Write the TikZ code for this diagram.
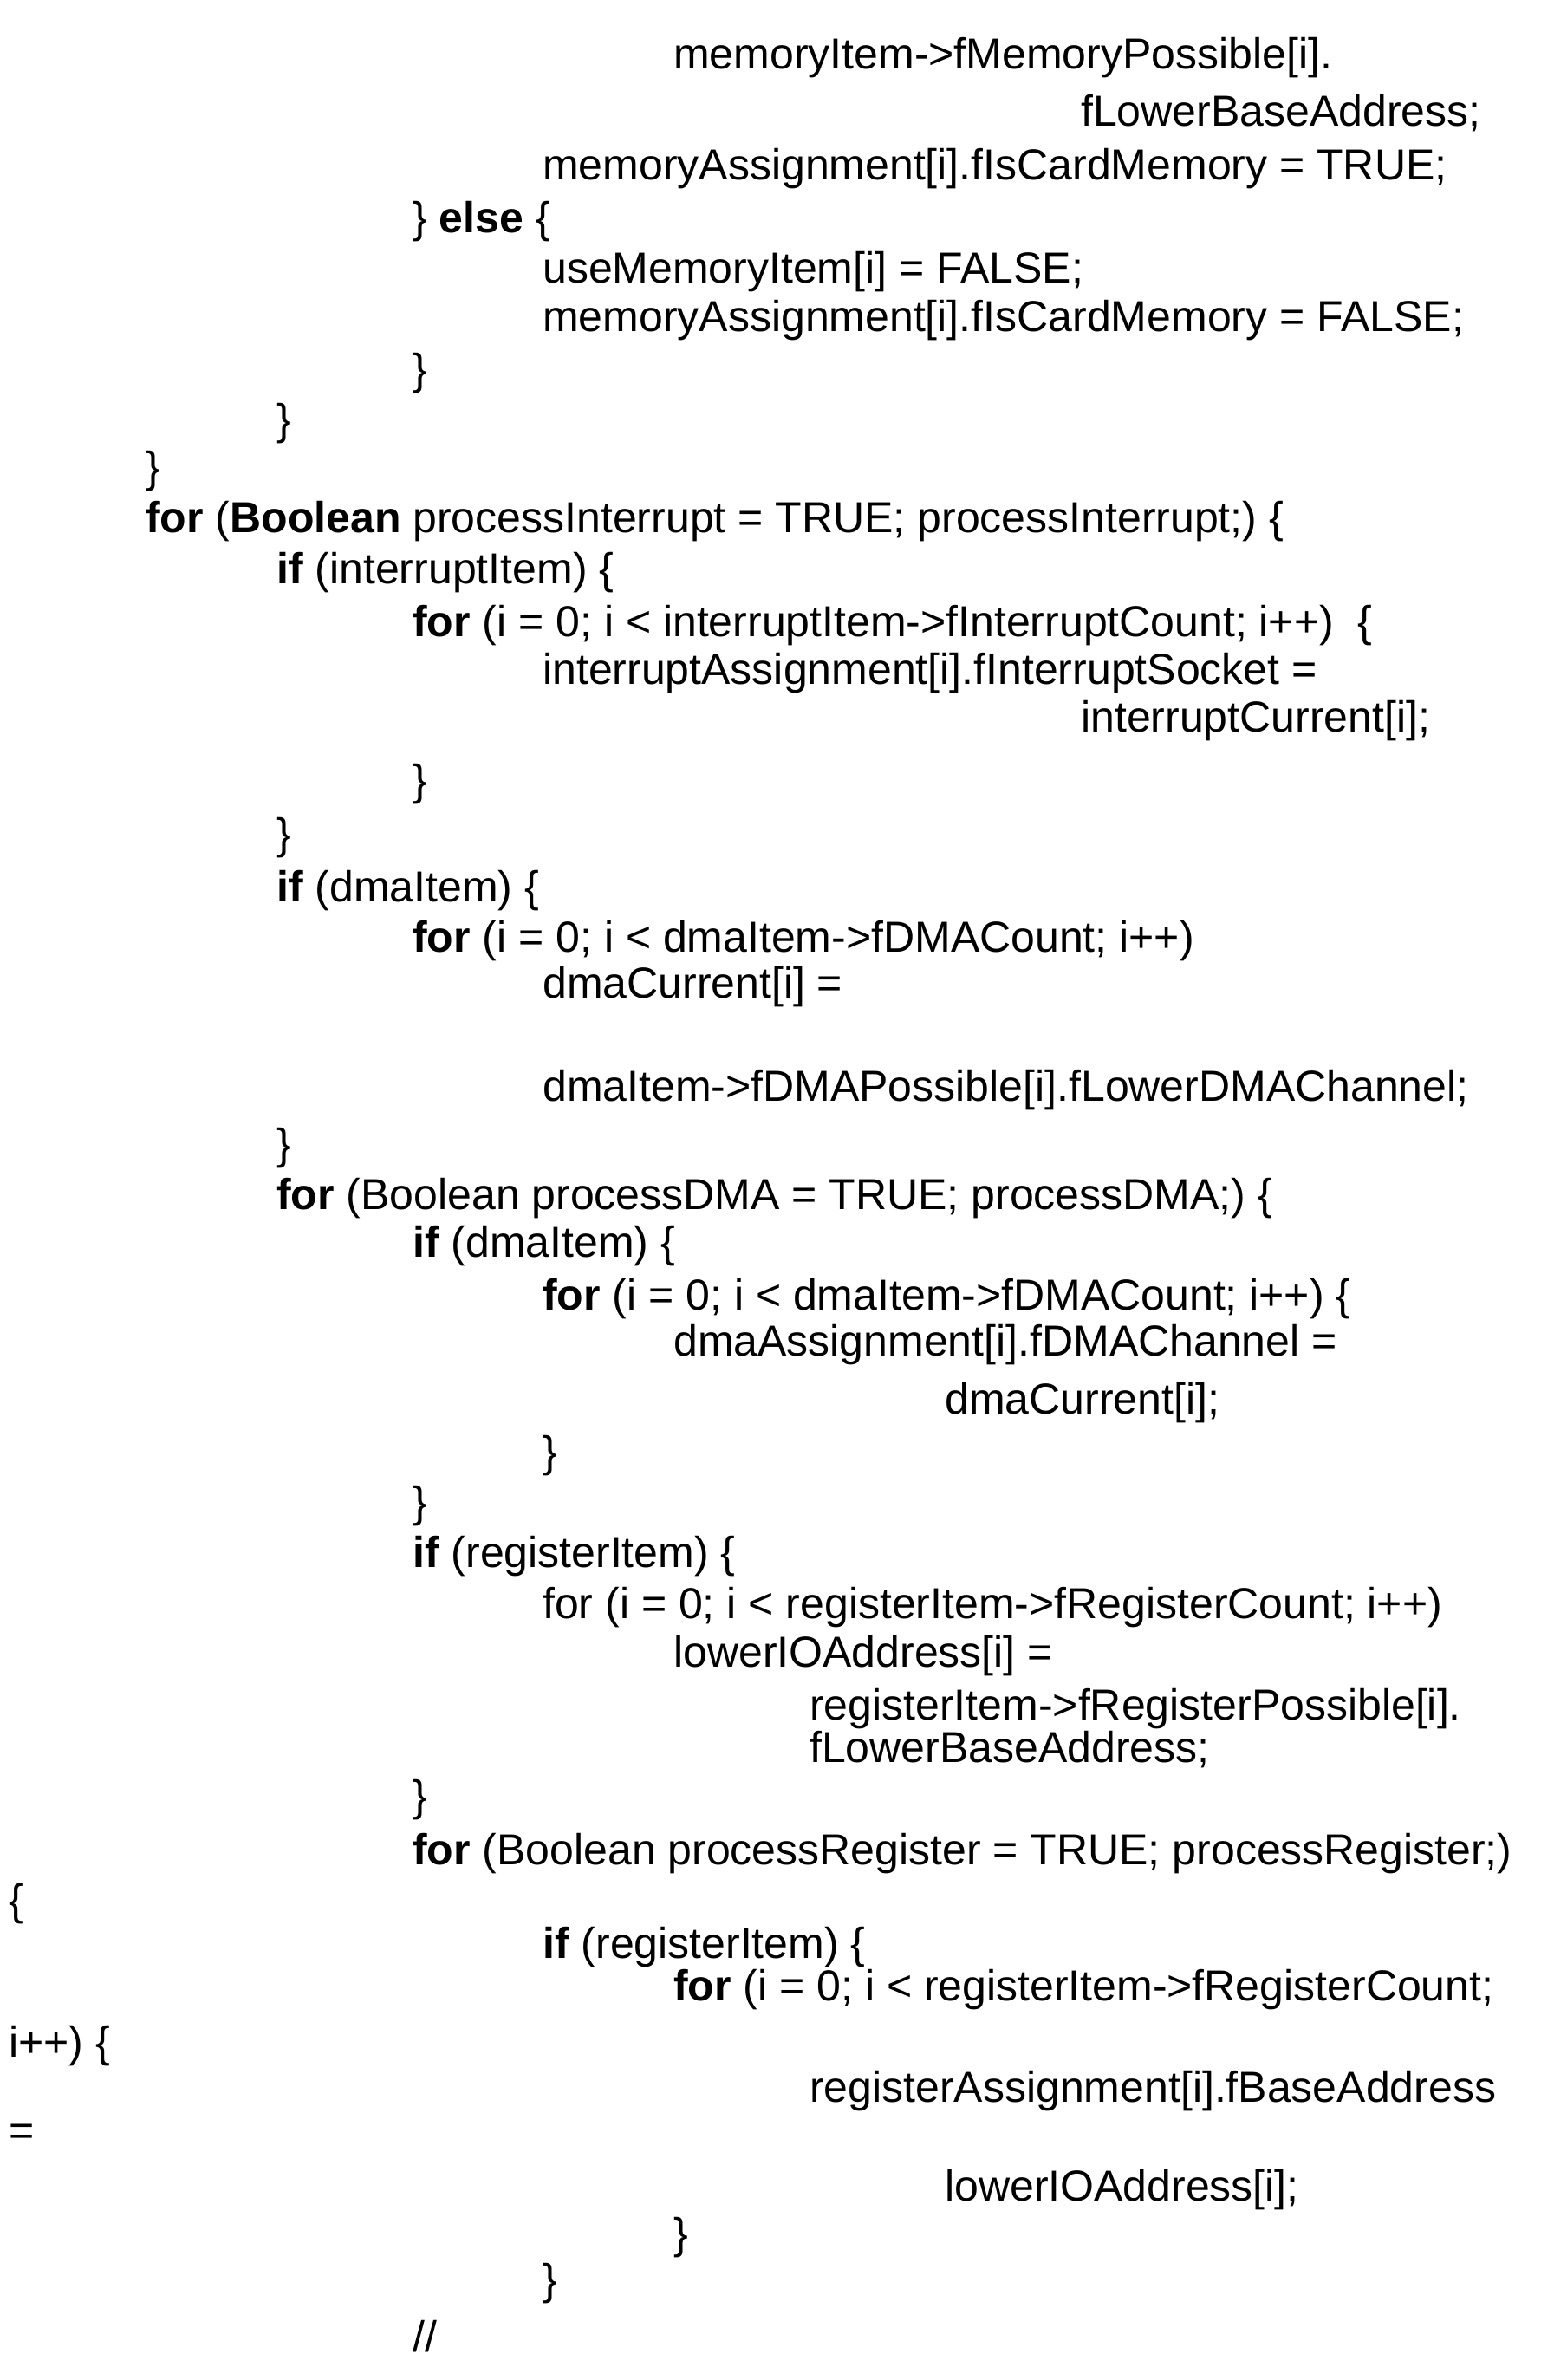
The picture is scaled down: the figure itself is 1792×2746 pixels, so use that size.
\documentclass[tikz,border=0pt]{standalone}
\usepackage{fontspec}
\setmainfont{Liberation Sans}
\usepackage{tikz}
\usetikzlibrary{positioning}

\begin{document}
\begin{tikzpicture}[x=1pt,y=-1pt]
\tikzstyle{ln} = [anchor=west,inner sep=0pt,font=\fontsize{50}{60}\selectfont]
    \useasboundingbox (0,0) rectangle (1792,2746);
    \node[ln] (l1)  at (777,67)   {memoryItem->fMemoryPossible[i].};
    \node[ln] (l2)  at (1247,131) {fLowerBaseAddress;};
    \node[ln] (l3)  at (626,195)  {memoryAssignment[i].fIsCardMemory = TRUE;};
    \node[ln] (l4)  at (476,256)  {\} \textbf{else} \{};
    \node[ln] (l5)  at (626,314)  {useMemoryItem[i] = FALSE;};
    \node[ln] (l6)  at (626,370)  {memoryAssignment[i].fIsCardMemory = FALSE;};
    \node[ln] (l7)  at (476,431)  {\}};
    \node[ln] (l8)  at (319,489)  {\}};
    \node[ln] (l9)  at (168,544)  {\}};
    \node[ln] (l10) at (168,602)  {\textbf{for} (\textbf{Boolean} processInterrupt = TRUE; processInterrupt;) \{};
    \node[ln] (l11) at (319,661)  {\textbf{if} (interruptItem) \{};
    \node[ln] (l12) at (476,722)  {\textbf{for} (i = 0; i < interruptItem->fInterruptCount; i++)\ \ \{};
    \node[ln] (l13) at (626,777)  {interruptAssignment[i].fInterruptSocket =};
    \node[ln] (l14) at (1247,832) {interruptCurrent[i];};
    \node[ln] (l15) at (476,905)  {\}};
    \node[ln] (l16) at (319,967)  {\}};
    \node[ln] (l17) at (319,1028) {\textbf{if} (dmaItem) \{};
    \node[ln] (l18) at (476,1086) {\textbf{for} (i = 0; i < dmaItem->fDMACount; i++)};
    \node[ln] (l19) at (626,1139) {dmaCurrent[i] =};
    \node[ln] (l21) at (626,1258) {dmaItem->fDMAPossible[i].fLowerDMAChannel;};
    \node[ln] (l22) at (319,1325) {\}};
    \node[ln] (l23) at (319,1383) {\textbf{for} (Boolean processDMA = TRUE; processDMA;) \{};
    \node[ln] (l24) at (476,1438) {\textbf{if} (dmaItem) \{};
    \node[ln] (l25) at (626,1499) {\textbf{for} (i = 0; i < dmaItem->fDMACount; i++) \{};
    \node[ln] (l26) at (777,1552) {dmaAssignment[i].fDMAChannel =};
    \node[ln] (l27) at (1090,1619) {dmaCurrent[i];};
    \node[ln] (l28) at (626,1680) {\}};
    \node[ln] (l29) at (476,1738) {\}};
    \node[ln] (l30) at (476,1796) {\textbf{if} (registerItem) \{};
    \node[ln] (l31) at (626,1855) {for (i = 0; i < registerItem->fRegisterCount; i++)};
    \node[ln] (l32) at (777,1911) {lowerIOAddress[i] =};
    \node[ln] (l33) at (934,1972) {registerItem->fRegisterPossible[i].};
    \node[ln] (l34) at (934,2019) {fLowerBaseAddress;};
    \node[ln] (l35) at (476,2077) {\}};
    \node[ln] (l36) at (476,2139) {\textbf{for} (Boolean processRegister = TRUE; processRegister;)};
    \node[ln] (l37) at (10,2197)  {\{};
    \node[ln] (l38) at (626,2247) {\textbf{if} (registerItem) \{};
    \node[ln] (l39) at (777,2296) {\textbf{for} (i = 0; i < registerItem->fRegisterCount;};
    \node[ln] (l40) at (10,2361)  {i++) \{};
    \node[ln] (l41) at (934,2413) {registerAssignment[i].fBaseAddress};
    \node[ln] (l42) at (10,2463)  {=};
    \node[ln] (l43) at (1090,2527) {lowerIOAddress[i];};
    \node[ln] (l44) at (777,2582) {\}};
    \node[ln] (l45) at (626,2635) {\}};
    \node[ln] (l46) at (476,2696) {//};
\end{tikzpicture}
\end{document}
